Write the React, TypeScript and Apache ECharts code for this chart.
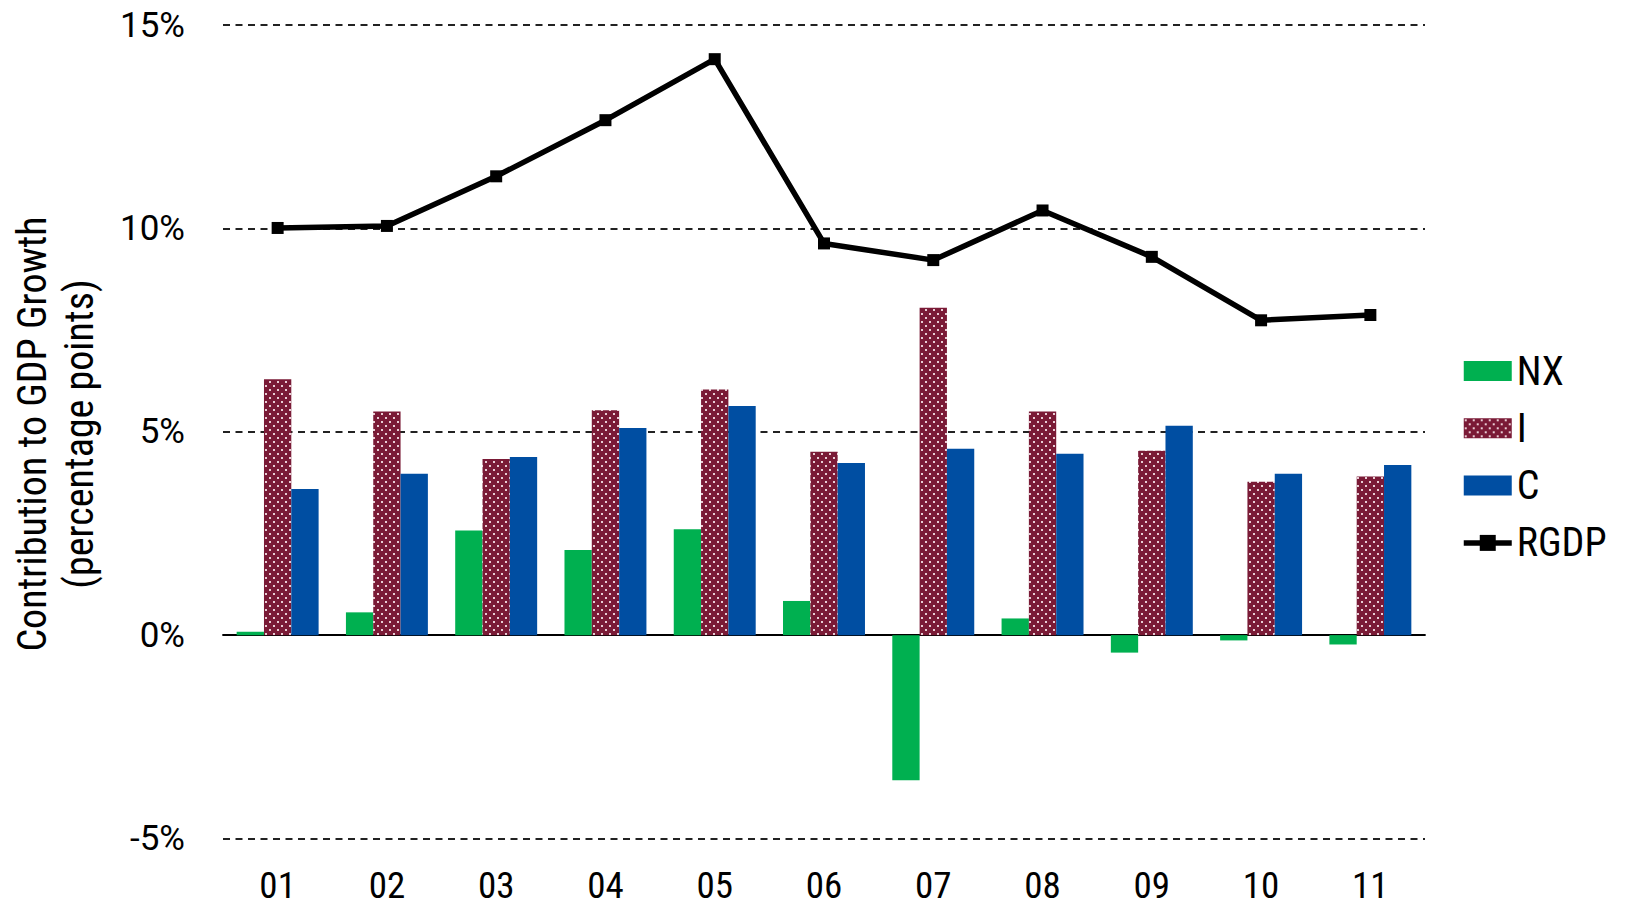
import React, { useEffect, useRef } from "react";
import * as echarts from "echarts";

const categories = ["01", "02", "03", "04", "05", "06", "07", "08", "09", "10", "11"];
const nxValues = [0.08, 0.56, 2.57, 2.09, 2.6, 0.84, -3.57, 0.41, -0.43, -0.13, -0.23];
const iValues = [6.29, 5.5, 4.33, 5.53, 6.04, 4.51, 8.05, 5.5, 4.53, 3.77, 3.9];
const cValues = [3.59, 3.97, 4.38, 5.09, 5.63, 4.23, 4.58, 4.46, 5.15, 3.97, 4.18];
const rgdpValues = [10.01, 10.06, 11.28, 12.66, 14.16, 9.63, 9.22, 10.44, 9.3, 7.74, 7.87];
const yTicks = { min: -5, max: 15, interval: 5 };

const NARROW = "'Liberation Sans Narrow', 'Arial Narrow', 'Roboto Condensed', sans-serif";

function makePattern(): HTMLCanvasElement {
  const c = document.createElement("canvas");
  c.width = 8;
  c.height = 8;
  const ctx = c.getContext("2d")!;
  ctx.fillStyle = "#7a1a36";
  ctx.fillRect(0, 0, 8, 8);
  ctx.fillStyle = "#e9cdd5";
  ctx.fillRect(1, 1, 2, 2);
  ctx.fillRect(5, 5, 2, 2);
  return c;
}

export default function App() {
  const ref = useRef<HTMLDivElement>(null);
  useEffect(() => {
    if (!ref.current) return;
    const chart = echarts.init(ref.current, undefined, { renderer: "svg" });
    const pattern = makePattern();
    chart.setOption({
      animation: false,
      backgroundColor: "#ffffff",
      grid: { left: 223, right: 200, top: 25, bottom: 67.5, containLabel: false },
      legend: {
        orient: "vertical",
        left: 1456,
        top: 346,
        itemWidth: 48,
        itemHeight: 20,
        itemGap: 17.3,
        textStyle: {
          fontFamily: NARROW,
          fontSize: 40,
          lineHeight: 40,
          color: "#000",
        },
        lineStyle: { width: 5.5 },
        data: [
          { name: "NX", icon: "rect" },
          { name: "I", icon: "rect" },
          { name: "C", icon: "rect" },
          { name: "RGDP" },
        ],
      },
      graphic: [
        {
          type: "text",
          x: 56,
          y: 434,
          rotation: Math.PI / 2,
          style: {
            text: "Contribution to GDP Growth\n(percentage points)",
            fontFamily: NARROW,
            fontSize: 40,
            lineHeight: 47,
            fill: "#000",
            align: "center",
            verticalAlign: "middle",
          },
        },
      ],
      xAxis: [
        {
          type: "category",
          data: categories,
          position: "bottom",
          axisLine: { show: false, onZero: false },
          axisTick: { show: false },
          axisLabel: {
            fontFamily: NARROW,
            fontSize: 37,
            color: "#000",
            margin: 28,
          },
        },
        {
          type: "category",
          data: categories,
          position: "bottom",
          axisLine: { show: true, onZero: true, lineStyle: { color: "#000", width: 1.8 } },
          axisTick: { show: false },
          axisLabel: { show: false },
        },
      ],
      yAxis: {
        type: "value",
        min: yTicks.min,
        max: yTicks.max,
        interval: yTicks.interval,
        axisLine: { show: false },
        axisTick: { show: false },
        axisLabel: {
          formatter: "{value}%",
          fontFamily: "Roboto, sans-serif",
          fontSize: 35,
          color: "#000",
          margin: 38,
        },
        splitLine: { lineStyle: { color: "#222", type: [7, 5.5], width: 1.8 } },
      },
      series: [
        {
          name: "NX",
          type: "bar",
          data: nxValues,
          barGap: "0%",
          barCategoryGap: "25%",
          itemStyle: { color: "#00b050" },
        },
        {
          name: "I",
          type: "bar",
          data: iValues,
          barGap: "0%",
          barCategoryGap: "25%",
          itemStyle: { color: { image: pattern, repeat: "repeat" } },
        },
        {
          name: "C",
          type: "bar",
          data: cValues,
          barGap: "0%",
          barCategoryGap: "25%",
          itemStyle: { color: "#004ea2" },
        },
        {
          name: "RGDP",
          type: "line",
          data: rgdpValues,
          symbol: "rect",
          symbolSize: 12,
          lineStyle: { color: "#000", width: 5.5 },
          itemStyle: { color: "#000" },
          z: 5,
        },
      ],
    });
    return () => chart.dispose();
  }, []);
  return (
    <div
      ref={ref}
      style={{ position: "fixed", left: 0, top: 0, width: 1625, height: 906 }}
    />
  );
}
